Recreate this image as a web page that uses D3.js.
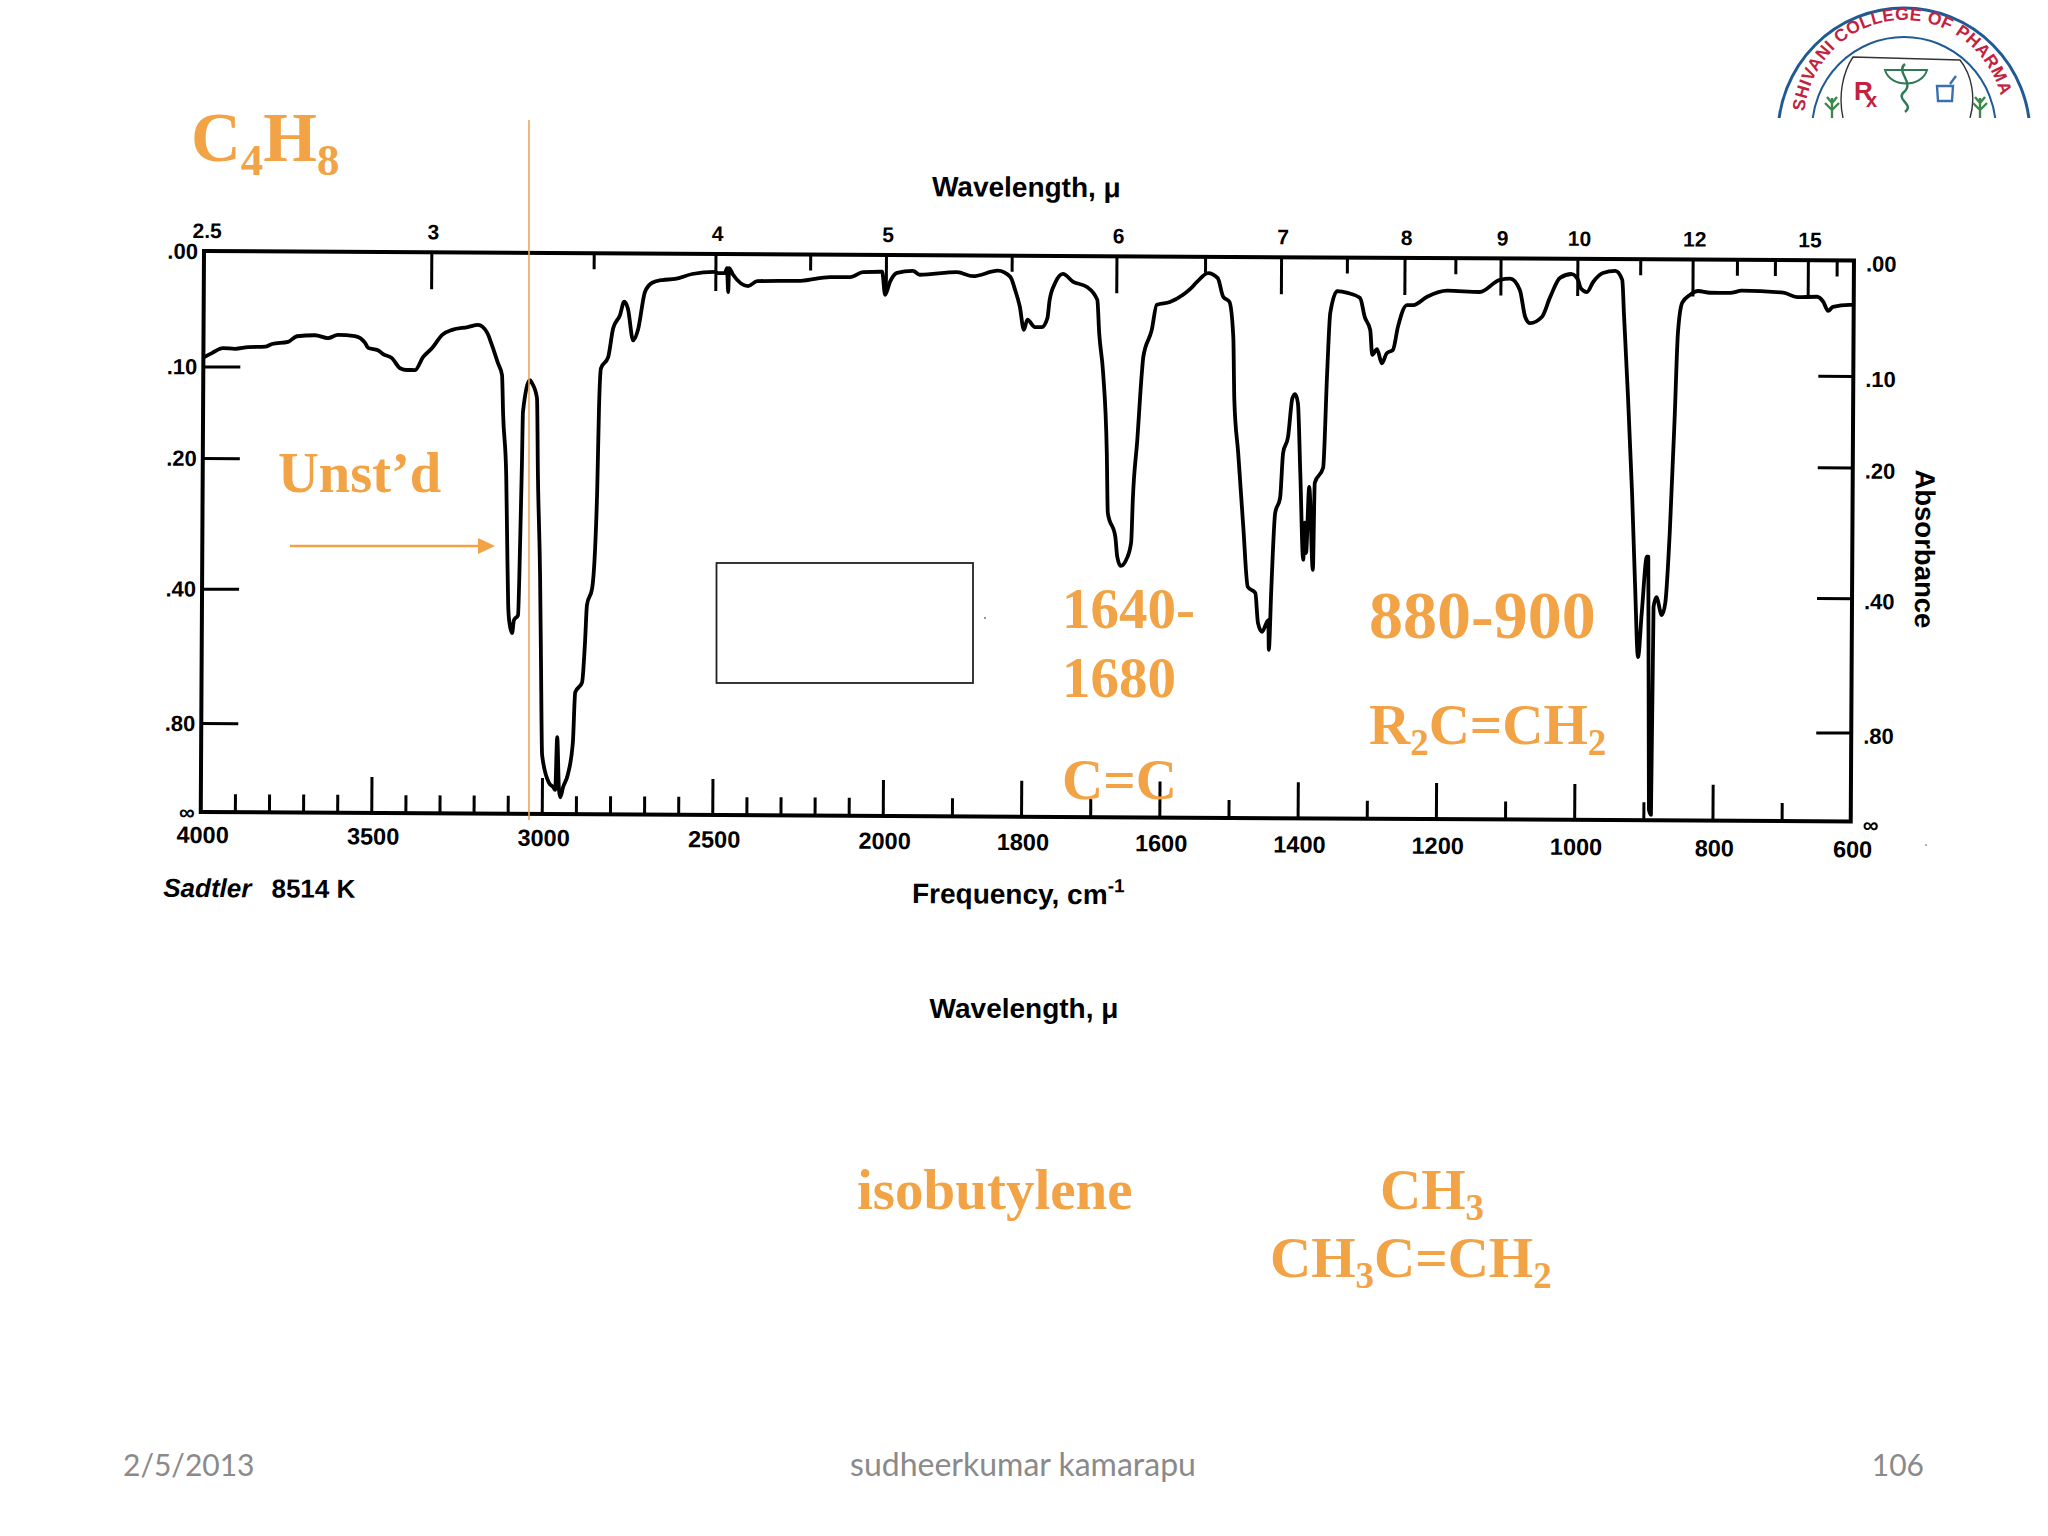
<!DOCTYPE html>
<html>
<head>
<meta charset="utf-8">
<style>
html, body { margin: 0; background: #fff; }
svg { display: block; }
.scan text { font-family: "Liberation Sans", sans-serif; font-weight: 700; fill: #000; }
.scan .tick line { stroke: #000; stroke-width: 3; }
.note { font-family: "Liberation Serif", serif; font-weight: 700; fill: #F1A345; }
.foot { font-family: Lato, sans-serif; fill: #8a8a8a; }
</style>
</head>
<body>
<svg id="slide" width="2048" height="1536"></svg>
<script src="https://cdn.jsdelivr.net/npm/d3@7"></script>
<script>
// spectrum: wavenumber (cm-1) and transmittance (1 - fraction of chart height)
const wavenumber = [4000,3975,3943,3907,3869,3819,3799,3752,3726,3673,3635,3606,3556,3526,3517,3488,3473,3447,3423,3403,3379,3356,3330,3300,3271,3225,3195,3168,3154,3136,3124,3120,3110,3106,3102,3099,3090,3085,3073,3068,3064,3062,3042,3036,3021,3017,3009,3005,3000,2979,2967,2961,2956,2950,2946,2938,2924,2910,2904,2884,2876,2871,2856,2843,2839,2834,2813,2799,2779,2767,2756,2740,2726,2706,2685,2656,2618,2568,2501,2492,2472,2466,2462,2460,2448,2404,2377,2251,2163,2105,2067,2011,2002,1994,1984,1961,1951,1897,1874,1838,1820,1813,1806,1800,1795,1784,1774,1766,1763,1755,1744,1729,1709,1694,1691,1685,1679,1677,1666,1663,1658,1649,1643,1641,1635,1629,1627,1615,1608,1589,1570,1560,1550,1534,1520,1512,1503,1497,1495,1489,1481,1474,1463,1459,1453,1444,1443,1440,1435,1428,1424,1417,1411,1407,1403,1399,1394,1392,1390,1386,1380,1378,1366,1361,1357,1347,1332,1314,1307,1299,1296,1289,1282,1275,1266,1259,1246,1237,1217,1188,1141,1112,1097,1083,1075,1068,1051,1039,1025,1008,999,995,986,977,963,945,935,932,926,919,914,909,904,897,895,892,889,887,883,875,870,864,858,854,848,837,825,808,779,762,702,682,653,644,637,630,606,600];
const transmittance = [.81,.818,.827,.826,.829,.83,.835,.839,.849,.851,.846,.852,.85,.838,.829,.825,.818,.811,.793,.79,.79,.813,.829,.853,.862,.867,.871,.857,.835,.803,.782,.711,.604,.484,.372,.345,.322,.345,.354,.484,.627,.716,.773,.768,.741,.604,.426,.278,.105,.055,.048,.043,.137,.043,.03,.048,.071,.128,.217,.235,.307,.373,.403,.574,.724,.795,.815,.866,.89,.914,.902,.845,.864,.932,.948,.953,.955,.964,.968,.966,.966,.975,.932,.975,.963,.943,.952,.953,.96,.96,.969,.97,.929,.952,.968,.972,.965,.97,.963,.973,.962,.939,.909,.868,.886,.873,.873,.889,.921,.952,.968,.954,.945,.922,.863,.792,.649,.542,.5,.464,.448,.462,.491,.566,.673,.792,.821,.869,.914,.919,.932,.942,.955,.971,.962,.929,.92,.857,.745,.651,.519,.412,.401,.348,.332,.353,.3,.407,.544,.571,.651,.68,.749,.756,.74,.616,.461,.527,.473,.591,.443,.598,.625,.794,.901,.94,.937,.928,.894,.871,.827,.837,.812,.83,.836,.877,.916,.916,.931,.942,.94,.962,.964,.944,.896,.885,.896,.932,.966,.973,.963,.948,.941,.959,.975,.979,.963,.897,.762,.583,.423,.291,.37,.47,.47,.019,.01,.38,.398,.366,.388,.518,.719,.869,.923,.937,.944,.941,.941,.945,.942,.934,.935,.926,.91,.917,.921,.921];

const freqMajor = [4000,3500,3000,2500,2000,1800,1600,1400,1200,1000,800,600];
const freqMinor = [3900,3800,3700,3600,3400,3300,3200,3100,2900,2800,2700,2600,2400,2300,2200,2100,1900,1700,1500,1300,1100,900,700];
const waveMajor = [3,4,5,6,7,8,9,10,12,15];
const waveLabels = [2.5,3,4,5,6,7,8,9,10,12,15];
const waveMinor = [3.5,4.5,5.5,6.5,7.5,8.5,11,13,14,16];
const absTicks = [.1,.2,.4,.8];
const absLabels = [[0,".00"],[.1,".10"],[.2,".20"],[.4,".40"],[.8,".80"],[Infinity,"∞"]];

const W = 1650, H = 561;
const svg = d3.select("#slide");
const x = d3.scaleLinear().domain([4000,2000,600]).range([0,682,W]);
const yT = d3.scaleLinear().domain([1,0]).range([0,H]);
const toT = a => Math.pow(10,-a);
const muToCm = m => 10000/m;

// the scan sits slightly crooked on the slide
const g = svg.append("g").attr("class","scan").attr("transform","translate(204,251) rotate(0.33)");

function marks(axis, tx, ty) {
  const a = g.append("g").attr("transform",`translate(${tx},${ty})`).call(axis);
  a.select(".domain").remove();
  a.selectAll(".tick text").remove();
}
marks(d3.axisTop(x).tickValues(freqMajor.slice(1,-1)).tickSize(36), 0, H);
marks(d3.axisTop(x).tickValues(freqMinor).tickSize(18), 0, H);
marks(d3.axisBottom(x).tickValues(waveMajor.map(muToCm)).tickSize(37), 0, 0);
marks(d3.axisBottom(x).tickValues(waveMinor.map(muToCm)).tickSize(16), 0, 0);
marks(d3.axisRight(yT).tickValues(absTicks.map(toT)).tickSize(37), 0, 0);
marks(d3.axisLeft(yT).tickValues(absTicks.map(toT)).tickSize(35), W, 0);

g.append("rect").attr("width",W).attr("height",H).attr("fill","none").attr("stroke","#000").attr("stroke-width",4);

const line = d3.line().curve(d3.curveMonotoneX).x(d => x(d[0])).y(d => yT(d[1]));
g.append("path").datum(d3.zip(wavenumber,transmittance))
  .attr("d",line).attr("fill","none").attr("stroke","#000").attr("stroke-width",3.8).attr("stroke-linejoin","round");

g.selectAll(".fl").data(freqMajor).join("text").attr("class","fl")
  .attr("x",d => x(d)+2).attr("y",d => H+31+x(d)*0.003).attr("text-anchor","middle").attr("font-size",23.5).text(d => d);
g.selectAll(".wl").data(waveLabels).join("text").attr("class","wl")
  .attr("x",d => x(muToCm(d))+(d===2.5?3:2)).attr("y",-13).attr("text-anchor","middle").attr("font-size",21).text(d => d);
g.selectAll(".al").data(absLabels).join("text").attr("class","al")
  .attr("x",-6).attr("y",d => yT(toT(d[0]))+8).attr("text-anchor","end").attr("font-size",22).text(d => d[1]);
g.selectAll(".ar").data(absLabels).join("text").attr("class","ar")
  .attr("x",W+12).attr("y",d => yT(toT(d[0]))+11).attr("font-size",22).text(d => d[1]);

g.append("text").attr("x",822).attr("y",-59).attr("text-anchor","middle").attr("font-size",28).text("Wavelength, μ");
const fq = g.append("text").attr("x",818).attr("y",648).attr("text-anchor","middle").attr("font-size",28);
fq.append("tspan").text("Frequency, cm");
fq.append("tspan").attr("dy",-12).attr("font-size",19).text("-1");
const sad = g.append("text").attr("x",-37).attr("y",646).attr("font-size",26);
sad.append("tspan").attr("font-style","italic").text("Sadtler");
sad.append("tspan").attr("dx",20).text("8514 K");
g.append("text").attr("transform",`translate(${W+63},${288}) rotate(90)`).attr("text-anchor","middle").attr("font-size",27.5).text("Absorbance");

// lower caption, straight on the slide
svg.append("text").attr("x",1024).attr("y",1018).attr("text-anchor","middle")
  .style("font-family","Liberation Sans").style("font-weight",700).attr("font-size",28).text("Wavelength, μ");

// blank box and stray specks of the slide
svg.append("rect").attr("x",716.5).attr("y",563).attr("width",256.5).attr("height",120).attr("fill","none").attr("stroke","#222").attr("stroke-width",1.8);
svg.append("circle").attr("cx",985).attr("cy",618).attr("r",0.9).attr("fill","#666");
svg.append("circle").attr("cx",1926).attr("cy",845).attr("r",0.9).attr("fill","#888");

// orange annotations
const orange = "#F1A345";
svg.append("line").attr("x1",529).attr("x2",529).attr("y1",120).attr("y2",820).attr("stroke","#EBA75A").attr("stroke-width",1.6);
svg.append("line").attr("x1",290).attr("x2",482).attr("y1",546).attr("y2",546).attr("stroke",orange).attr("stroke-width",2.6);
svg.append("path").attr("d","M478,538 L495,546 L478,554 Z").attr("fill",orange);

function note(px, py, size, parts) {
  const t = svg.append("text").attr("class","note").attr("x",px).attr("y",py).attr("font-size",size);
  let down = 0;
  parts.forEach(p => {
    const sub = p[0] === "_";
    const target = sub ? size*0.2 : 0;
    t.append("tspan").attr("dy",target-down).attr("font-size",sub ? size*0.65 : size).text(sub ? p.slice(1) : p);
    down = target;
  });
}
note(191,161,69,["C","_4","H","_8"]);
note(278,492,56.5,["Unst’d"]);
note(1062,628,57,["1640-"]);
note(1062,697,57,["1680"]);
note(1062,799,57,["C=C"]);
note(1369,638,68,["880-900"]);
note(1369,744,57,["R","_2","C=CH","_2"]);
note(857,1209,57,["isobutylene"]);
note(1380,1209,57,["CH","_3"]);
note(1270,1277,57,["CH","_3","C=CH","_2"]);

// footer
svg.append("text").attr("class","foot").attr("font-size",30).attr("x",123).attr("y",1476).text("2/5/2013");
svg.append("text").attr("class","foot").attr("font-size",32).attr("x",1023).attr("y",1476).attr("text-anchor","middle").text("sudheerkumar kamarapu");
svg.append("text").attr("class","foot").attr("font-size",30).attr("x",1924).attr("y",1476).attr("text-anchor","end").text("106");

// college logo, cropped at its lower edge
const defs = svg.append("defs");
defs.append("clipPath").attr("id","logoClip").append("rect").attr("x",1760).attr("y",0).attr("width",288).attr("height",118);
defs.append("path").attr("id","logoArc").attr("d","M1804,122 A100,102 0 0 1 2004,122");
const logo = svg.append("g").attr("clip-path","url(#logoClip)");
logo.append("ellipse").attr("cx",1904).attr("cy",135).attr("rx",126).attr("ry",127).attr("fill","none").attr("stroke","#1f5a93").attr("stroke-width",3);
logo.append("ellipse").attr("cx",1904).attr("cy",130).attr("rx",92).attr("ry",93).attr("fill","none").attr("stroke","#1f5a93").attr("stroke-width",2);
logo.append("text").attr("font-family","Liberation Sans").attr("font-weight",700).attr("font-size",17.5).attr("letter-spacing",0.4).attr("fill","#c4213f")
  .append("textPath").attr("href","#logoArc").attr("startOffset",0).text("I SHIVANI COLLEGE OF PHARMA");
logo.append("path").attr("d","M1843,118 C1838,95 1843,72 1853,57 L1960,60 C1972,75 1976,98 1970,118").attr("fill","none").attr("stroke","#333").attr("stroke-width",1.4);
logo.append("text").attr("x",1854).attr("y",100).attr("font-family","Liberation Sans").attr("font-weight",700).attr("font-size",26).attr("fill","#c4213f").text("R");
logo.append("text").attr("x",1866).attr("y",107).attr("font-family","Liberation Sans").attr("font-weight",700).attr("font-size",20).attr("fill","#c4213f").text("x");
logo.append("path").attr("d","M1885,70 C1890,88 1922,88 1927,70 Z").attr("fill","none").attr("stroke","#2f7a55").attr("stroke-width",2);
logo.append("path").attr("d","M1905,64 C1895,72 1915,82 1904,92 C1895,100 1915,104 1905,112").attr("fill","none").attr("stroke","#2f7a55").attr("stroke-width",2.4);
logo.append("path").attr("d","M1937,86 L1953,86 L1952,101 L1938,101 Z M1950,84 L1956,76").attr("fill","none").attr("stroke","#3a6fb0").attr("stroke-width",2.4);
[1832,1980].forEach(cx => logo.append("path").attr("d",`M${cx},118 L${cx},98 M${cx},110 L${cx-7},103 M${cx},110 L${cx+7},103 M${cx},103 L${cx-5},97 M${cx},103 L${cx+5},97`).attr("fill","none").attr("stroke","#3b8a4a").attr("stroke-width",2.4));
</script>
</body>
</html>
